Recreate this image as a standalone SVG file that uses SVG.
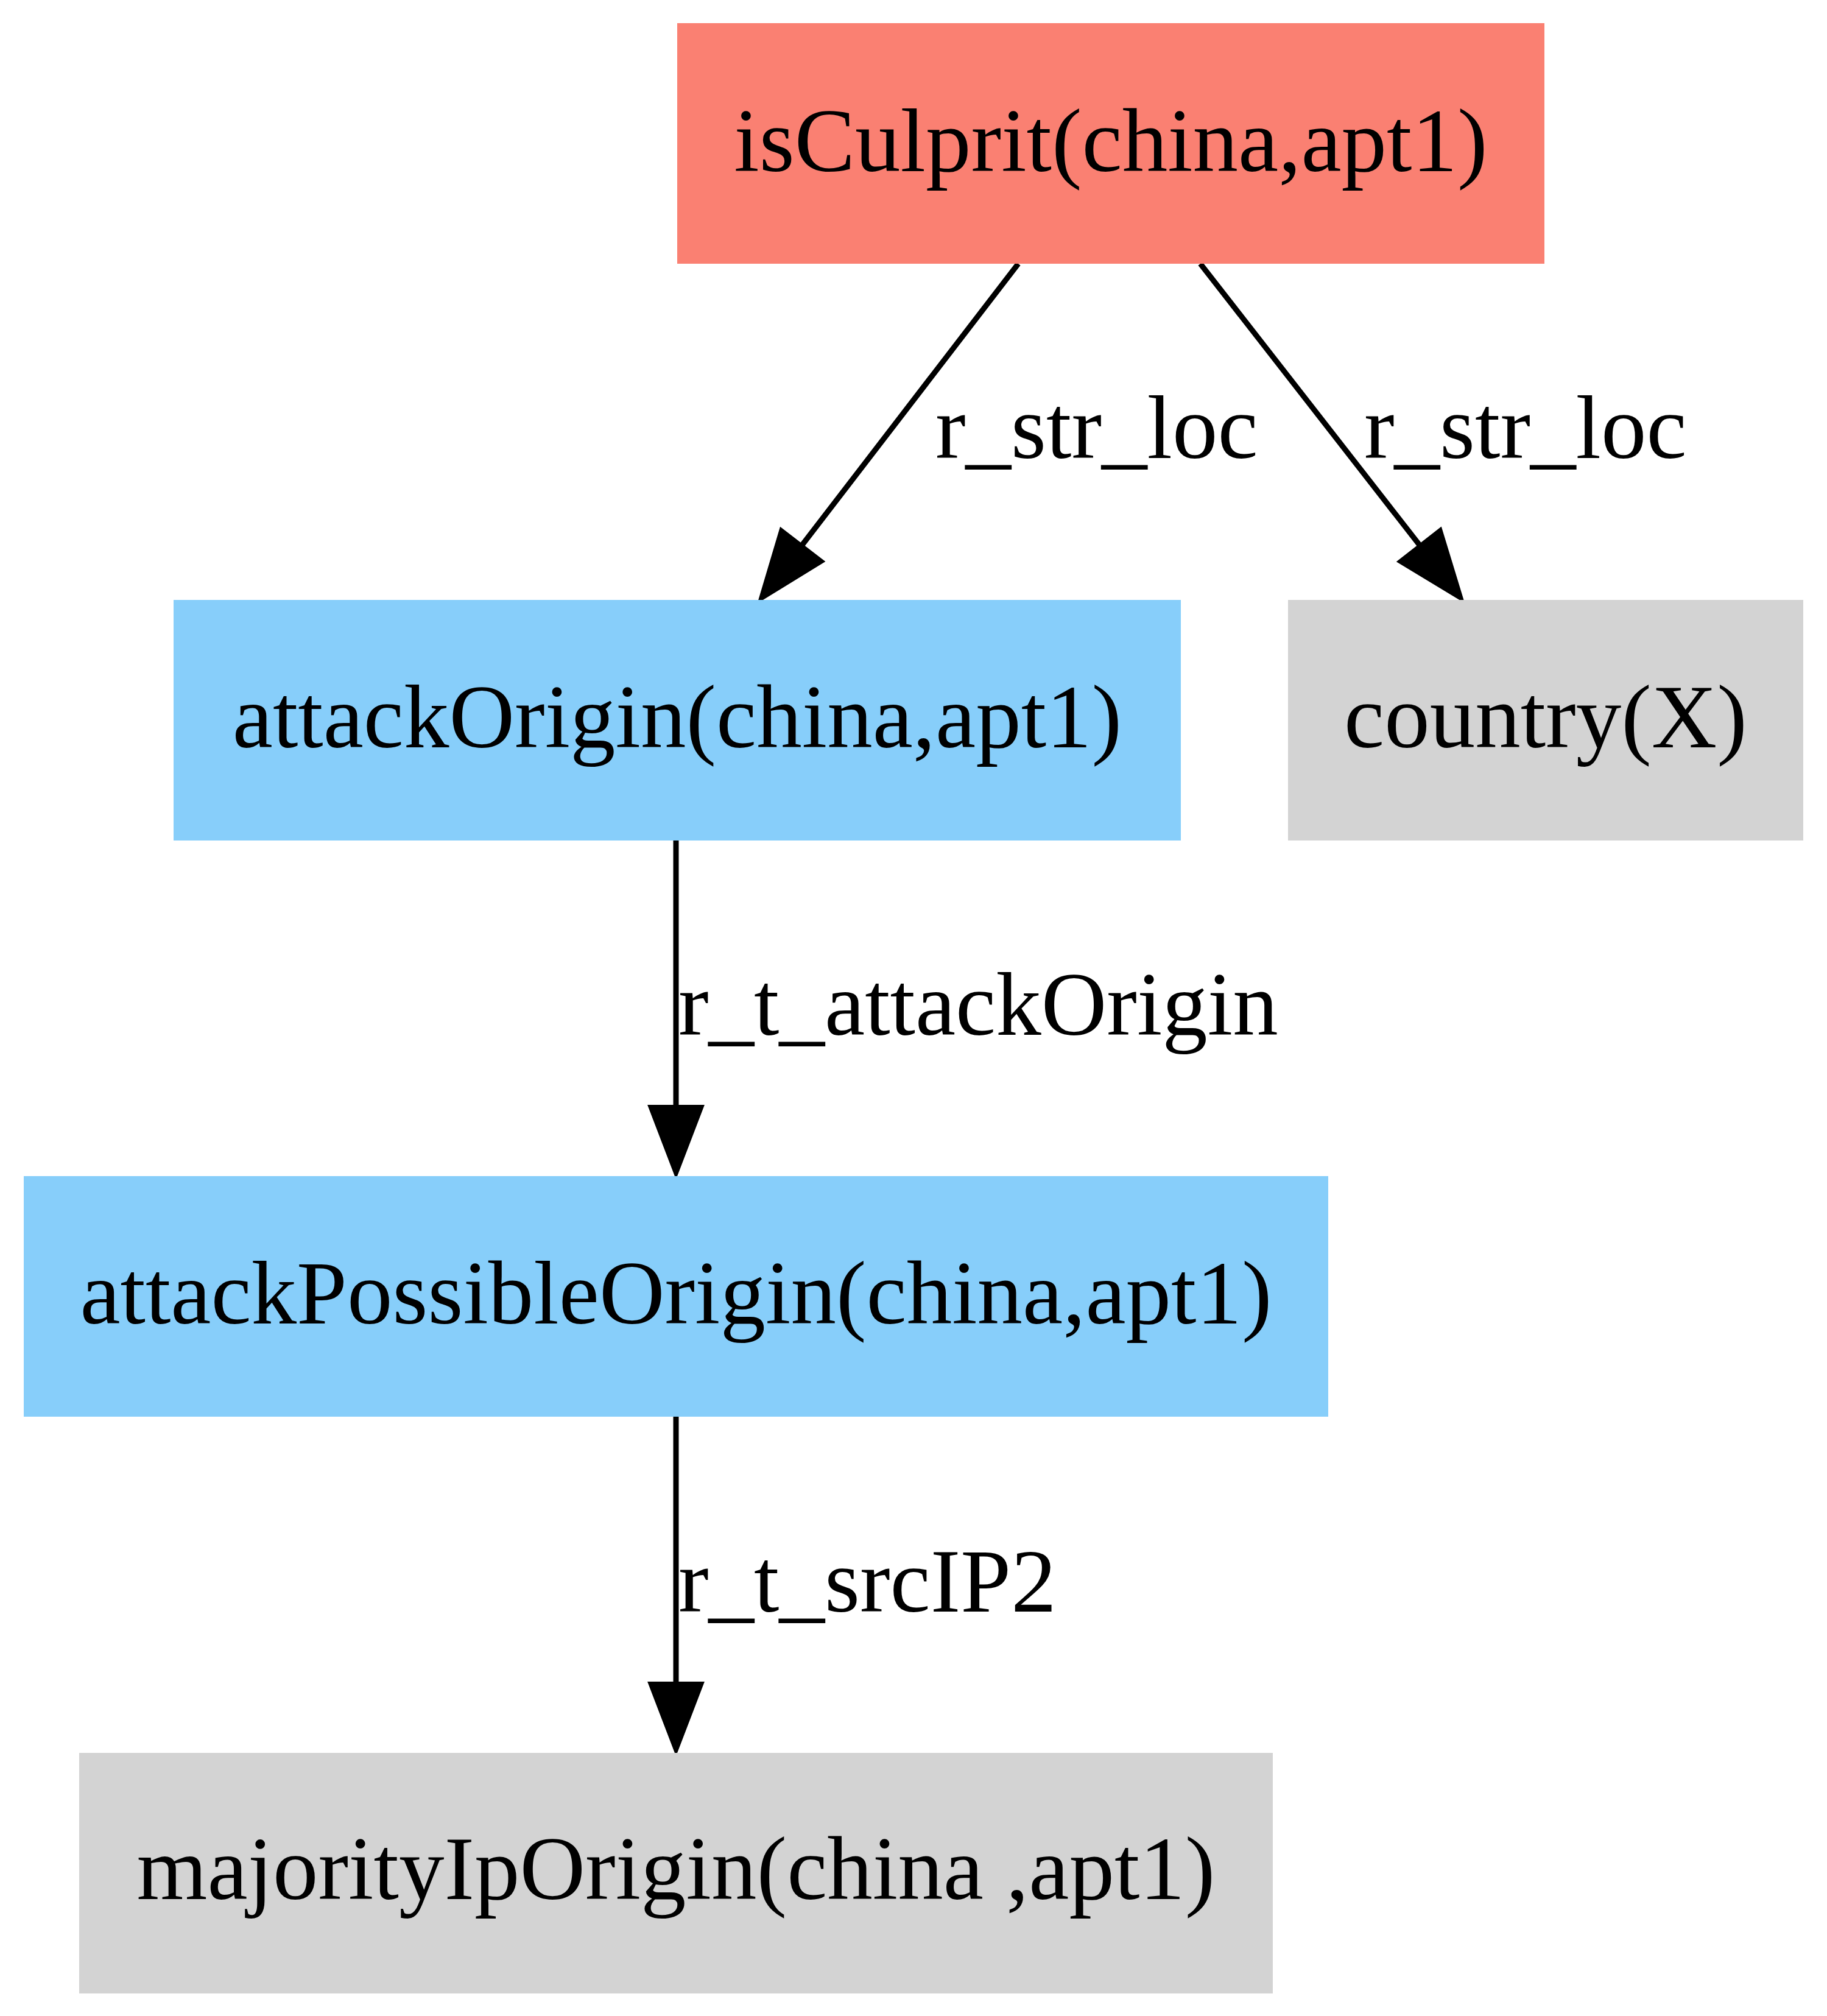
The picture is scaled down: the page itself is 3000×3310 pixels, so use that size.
<svg xmlns="http://www.w3.org/2000/svg" width="3000" height="3310" viewBox="0 0 3000 3310">
<style>
.lbl{font-family:"Liberation Serif","Times New Roman",serif;font-size:149px;fill:#000;}
.edge{fill:none;stroke:#000;stroke-width:9;}
</style>
<defs>
<marker id="ah" markerUnits="userSpaceOnUse" markerWidth="130" markerHeight="100" refX="0" refY="45" orient="auto" overflow="visible">
<polygon points="0,1 115,45 0,89" fill="#000" stroke="#000" stroke-width="4"/>
</marker>
</defs>
<rect width="3000" height="3310" fill="#fff"/>
<g id="connectors">
<path class="edge" d="M1672,433 L1317,895" marker-end="url(#ah)"/>
<text class="lbl" x="1536" y="752">r_str_loc</text>
<path class="edge" d="M1971,433 L2331,895" marker-end="url(#ah)"/>
<text class="lbl" x="2240" y="752">r_str_loc</text>
<path class="edge" d="M1110,1380 L1110,1816" marker-end="url(#ah)"/>
<text class="lbl" x="1114" y="1699">r_t_attackOrigin</text>
<path class="edge" d="M1110,2326 L1110,2763" marker-end="url(#ah)"/>
<text class="lbl" x="1114" y="2646">r_t_srcIP2</text>
</g>
<g id="isCulprit">
<rect x="1112" y="38" width="1424" height="395" fill="#fa8072"/>
<text class="lbl" x="1824" y="281" text-anchor="middle">isCulprit(china,apt1)</text>
</g>
<g id="attackOrigin">
<rect x="285" y="985" width="1654" height="395" fill="#87cefa"/>
<text class="lbl" x="1112" y="1227" text-anchor="middle">attackOrigin(china,apt1)</text>
</g>
<g id="country">
<rect x="2115" y="985" width="846" height="395" fill="#d3d3d3"/>
<text class="lbl" x="2538" y="1227" text-anchor="middle">country(X)</text>
</g>
<g id="attackPossibleOrigin">
<rect x="39" y="1931" width="2142" height="395" fill="#87cefa"/>
<text class="lbl" x="1110" y="2173" text-anchor="middle">attackPossibleOrigin(china,apt1)</text>
</g>
<g id="majorityIpOrigin">
<rect x="130" y="2878" width="1960" height="395" fill="#d3d3d3"/>
<text class="lbl" x="1110" y="3118" text-anchor="middle">majorityIpOrigin(china ,apt1)</text>
</g>
</svg>
